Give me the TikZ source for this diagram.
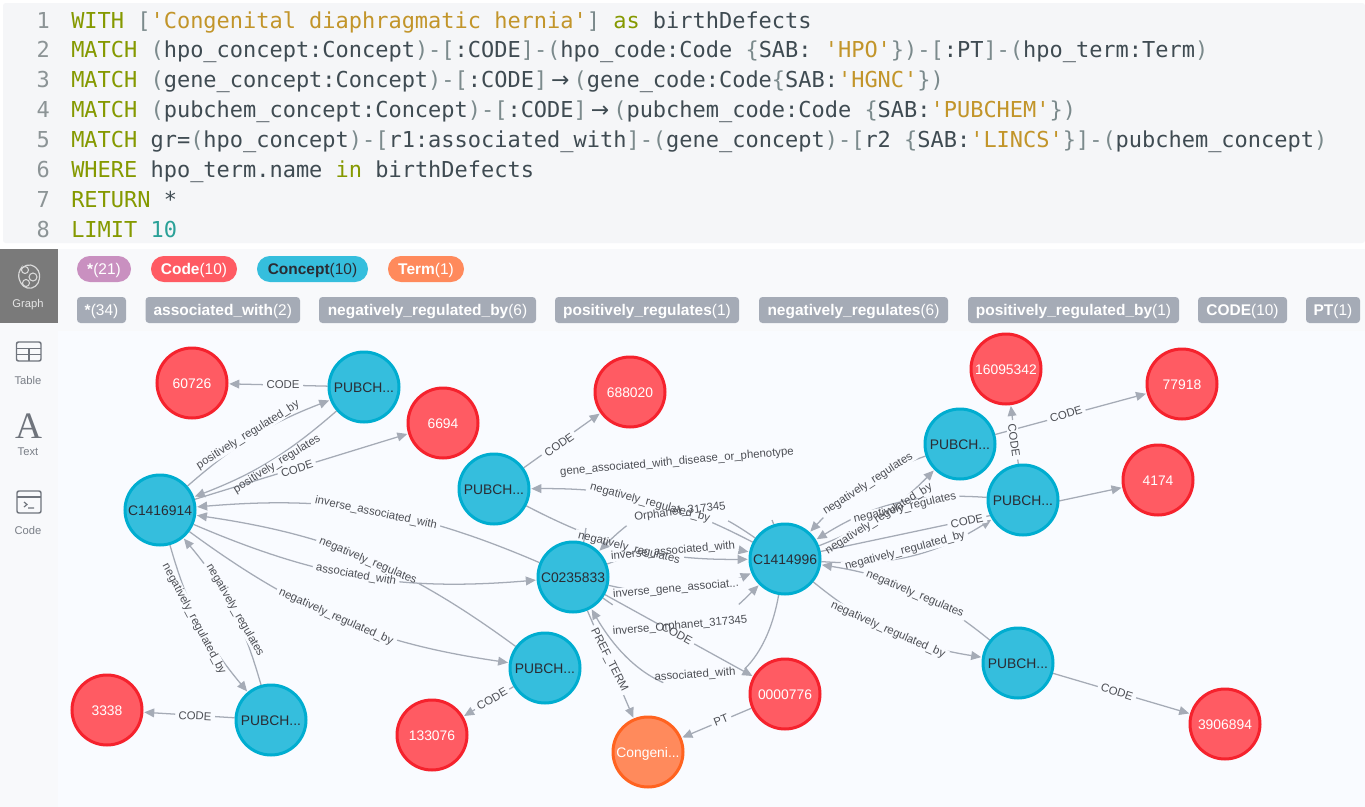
\documentclass[tikz,border=0pt]{standalone}
\usepackage{fontspec}
\setmainfont{Liberation Sans}
\newfontfamily\codefont{DejaVu Sans Mono}
\newfontfamily\arrowfont{DejaVu Sans}
\newfontfamily\iconfont{Liberation Serif}
\usetikzlibrary{arrows.meta}
\definecolor{codebg}{HTML}{F5F6F8}
\definecolor{panelbg}{HTML}{F8F9FB}
\definecolor{canvasbg}{HTML}{F9FBFF}
\definecolor{kwcol}{HTML}{859900}
\definecolor{strcol}{HTML}{C2952A}
\definecolor{numcol}{HTML}{2AA198}
\definecolor{puncol}{HTML}{7B8A8C}
\definecolor{txtcol}{HTML}{3F4B52}
\definecolor{lnumcol}{HTML}{8C9496}
\definecolor{relgray}{HTML}{A5ABB6}
\definecolor{conceptfill}{HTML}{35BEDD}
\definecolor{conceptline}{HTML}{00ADD0}
\definecolor{codefill}{HTML}{FF5B63}
\definecolor{codeline}{HTML}{F5222D}
\definecolor{termfill}{HTML}{FF8A5C}
\definecolor{termline}{HTML}{FF6320}
\definecolor{allfill}{HTML}{C990C0}
\definecolor{darktxt}{HTML}{2A2C34}
\definecolor{labtxt}{HTML}{4D4F55}
\definecolor{sidetxt}{HTML}{7A7F87}
\definecolor{iconcol}{HTML}{6F747C}
\pgfdeclarelayer{backlayer}
\pgfdeclarelayer{edgelayer}
\pgfsetlayers{backlayer,edgelayer,main}
\newcounter{lc}
\newcommand{\Kw}[1]{\textcolor{kwcol}{#1}}
\newcommand{\St}[1]{\textcolor{strcol}{#1}}
\newcommand{\Pn}[1]{\textcolor{puncol}{#1}}
\newcommand{\Ar}{\makebox[1.204em][c]{\textcolor{txtcol}{\arrowfont →}}}
\newcommand{\Codeline}[2]{%
  \node[lnum] (ln#1) at (50,{28+29.86*(#1-1)}) {#1};
  \node[codetxt] (cl#1) at (71,{28+29.86*(#1-1)}) {#2};}
\newcommand{\Edge}[7]{% from, to, path options, x, y, rot, text
  \stepcounter{lc}%
  \begin{pgfonlayer}{edgelayer}
    \draw[conn] (#1) to[#3] (#2);
    \node[gaplab,rotate=#6] (gap\thelc) at (#4,#5) {\phantom{#7}};
  \end{pgfonlayer}
  \node[edgelab,rotate=#6] (lab\thelc) at (#4,#5) {#7};}
\newcommand{\EdgeD}[8]{% same, with the break of a tightly curved arc given as a dash pattern
  \stepcounter{lc}%
  \begin{pgfonlayer}{edgelayer}
    \draw[conn,dash pattern=#8] (#1) to[#3] (#2);
  \end{pgfonlayer}
  \node[edgelab,rotate=#6] (lab\thelc) at (#4,#5) {#7};}
\newcommand{\Pill}[8]{% name,x1,x2,y1,y2,fill,style,text
  \pgfmathsetlengthmacro{\pw}{(#3-#2)*0.75pt}%
  \pgfmathsetlengthmacro{\ph}{(#5-#4)*0.75pt}%
  \node[#7,fill=#6,minimum width=\pw,minimum height=\ph] (#1) at ({(#2+#3)/2},{(#4+#5)/2}) {#8};}
\tikzset{
  x=0.75pt,y=-0.75pt,
  lnum/.style={anchor=base east,font=\codefont\fontsize{16.47pt}{18pt}\selectfont,text=lnumcol,inner sep=0pt},
  codetxt/.style={anchor=base west,font=\codefont\fontsize{16.47pt}{18pt}\selectfont,text=txtcol,inner sep=0pt},
  gnode/.style={circle,minimum size=52.5pt,inner sep=0pt,line width=2.25pt,text height=9pt,text depth=1pt,font=\fontsize{10.4pt}{12pt}\selectfont},
  cnode/.style={gnode,fill=conceptfill,draw=conceptline,text=darktxt},
  rnode/.style={gnode,fill=codefill,draw=codeline,text=white},
  tnode/.style={gnode,fill=termfill,draw=termline,text=white},
  conn/.style={draw=relgray,line width=0.95pt,-{Triangle[length=7.5pt,width=6.6pt]},shorten >=0.6pt},
  tickline/.style={draw=relgray,line width=0.95pt},
  gaplab/.style={fill=canvasbg,inner xsep=2.5pt,inner ysep=0pt,minimum height=8.5pt,font=\fontsize{8.55pt}{10pt}\selectfont},
  edgelab/.style={text=labtxt,inner sep=0pt,font=\fontsize{8.55pt}{10pt}\selectfont},
  roundpill/.style={rounded corners=9.7pt,inner sep=0pt,text height=10pt,text depth=2pt,font=\fontsize{11.6pt}{13pt}\selectfont,text=white},
  relpill/.style={rounded corners=2.6pt,inner sep=0pt,text height=10pt,text depth=2pt,font=\fontsize{11.6pt}{13pt}\selectfont,text=white},
  sidelab/.style={font=\fontsize{8.4pt}{10pt}\selectfont,text=sidetxt,inner sep=0pt},
  iconline/.style={draw=iconcol,line width=0.9pt},
}
\begin{document}
\begin{tikzpicture}
\useasboundingbox (0,0) rectangle (1365,807);
\begin{pgfonlayer}{backlayer}
  \fill[white] (0,0) rectangle (1365,807);
  \fill[codebg,rounded corners=2pt] (3,3) rectangle (1365,243);
  \fill[panelbg] (0,249) rectangle (1365,807);
  \fill[canvasbg] (58,331) rectangle (1365,807);
  \fill[black!52] (0,249) rectangle (58,323);
\end{pgfonlayer}

% code
\Codeline{1}{\Kw{WITH} \Pn{[}\St{'Congenital diaphragmatic hernia'}\Pn{]} \Kw{as} birthDefects}
\Codeline{2}{\Kw{MATCH} \Pn{(}hpo\_concept:Concept\Pn{)-[}:CODE\Pn{]-(}hpo\_code:Code \Pn{\{}SAB: \St{'HPO'}\Pn{\})-[}:PT\Pn{]-(}hpo\_term:Term\Pn{)}}
\Codeline{3}{\Kw{MATCH} \Pn{(}gene\_concept:Concept\Pn{)-[}:CODE\Pn{]}\Ar\Pn{(}gene\_code:Code\Pn{\{}SAB:\St{'HGNC'}\Pn{\})}}
\Codeline{4}{\Kw{MATCH} \Pn{(}pubchem\_concept:Concept\Pn{)-[}:CODE\Pn{]}\Ar\Pn{(}pubchem\_code:Code \Pn{\{}SAB:\St{'PUBCHEM'}\Pn{\})}}
\Codeline{5}{\Kw{MATCH} gr=\Pn{(}hpo\_concept\Pn{)-[}r1:associated\_with\Pn{]-(}gene\_concept\Pn{)-[}r2 \Pn{\{}SAB:\St{'LINCS'}\Pn{\}]-(}pubchem\_concept\Pn{)}}
\Codeline{6}{\Kw{WHERE} hpo\_term.name \Kw{in} birthDefects}
\Codeline{7}{\Kw{RETURN} *}
\Codeline{8}{\Kw{LIMIT} \textcolor{numcol}{10}}

% side bar
\node[sidelab,text=white!90!black] (sgraph) at (28,305) {Graph};
\node[sidelab] (stable) at (28,380) {Table};
\node[sidelab] (stext) at (28,452) {Text};
\node[sidelab] (scode) at (28,530) {Code};
% graph icon
\draw[white!85!black,line width=0.9pt,rounded corners=3pt] (22,267) -- (31,264) -- (39,270) -- (40,279) -- (36,287) -- (27,289) -- (20,283) -- (18,273) -- cycle;
\draw[white!85!black,line width=0.8pt] (25,270) circle[radius=3.5] (33,277) circle[radius=4] (26,283) circle[radius=3.5];
% table icon
\draw[iconline,rounded corners=1.5pt,line width=1.1pt] (16.5,342) rectangle (41,361);
\draw[iconline,line width=1.1pt] (16.5,348.5) -- (41,348.5) (16.5,354.5) -- (41,354.5) (29,348.5) -- (29,361);
% text icon
\node[text=iconcol,font=\iconfont\fontsize{28pt}{30pt}\selectfont,inner sep=0pt] (aicon) at (28.5,426) {A};
% code icon
\draw[iconline,rounded corners=1.5pt,line width=1.1pt] (17,491) rectangle (41,513);
\draw[iconline,line width=1.1pt] (17,497) -- (41,497);
\draw[iconline] (24,502) -- (27,504.5) -- (24,507) (28,508) -- (34,508);

% legend
\Pill{p1}{77}{131}{256}{282}{allfill}{roundpill}{\textbf{*}(21)}
\Pill{p2}{151}{237}{256}{282}{codefill}{roundpill}{\textbf{Code}(10)}
\Pill{p3}{257}{368}{256}{282}{conceptfill}{roundpill,text=darktxt}{\textbf{Concept}(10)}
\Pill{p4}{388}{464}{256}{282}{termfill}{roundpill}{\textbf{Term}(1)}
\Pill{r1}{77}{126}{297}{323}{relgray}{relpill}{\textbf{*}(34)}
\Pill{r2}{145.5}{300}{297}{323}{relgray}{relpill}{\textbf{associated\_with}(2)}
\Pill{r3}{319}{536}{297}{323}{relgray}{relpill}{\textbf{negatively\_regulated\_by}(6)}
\Pill{r4}{555}{739}{297}{323}{relgray}{relpill}{\textbf{positively\_regulates}(1)}
\Pill{r5}{759}{948}{297}{323}{relgray}{relpill}{\textbf{negatively\_regulates}(6)}
\Pill{r6}{968}{1179}{297}{323}{relgray}{relpill}{\textbf{positively\_regulated\_by}(1)}
\Pill{r7}{1198}{1287}{297}{323}{relgray}{relpill}{\textbf{CODE}(10)}
\Pill{r8}{1306}{1360}{297}{323}{relgray}{relpill}{\textbf{PT}(1)}

% graph nodes
\node[rnode] (n60726) at (192,383) {60726};
\node[cnode] (pc1) at (364,387) {PUBCH...};
\node[rnode] (n6694) at (443,423) {6694};
\node[rnode] (n688020) at (630,392) {688020};
\node[cnode] (pc2) at (494,489) {PUBCH...};
\node[cnode] (c1) at (160,510) {C1416914};
\node[cnode] (c2) at (573,577) {C0235833};
\node[cnode] (c3) at (785,559) {C1414996};
\node[rnode] (n16095342) at (1006,369) {16095342};
\node[rnode] (n77918) at (1182,384) {77918};
\node[cnode] (pc3) at (960,444) {PUBCH...};
\node[cnode] (pc4) at (1023,500) {PUBCH...};
\node[rnode] (n4174) at (1158,480) {4174};
\node[cnode] (pc5) at (1018,663) {PUBCH...};
\node[rnode] (n3906894) at (1225,724) {3906894};
\node[cnode] (pc6) at (545,668) {PUBCH...};
\node[rnode] (n133076) at (432,735) {133076};
\node[rnode] (n3338) at (107,710) {3338};
\node[cnode] (pc7) at (271,720) {PUBCH...};
\node[rnode] (n776) at (785,694) {0000776};
\node[tnode] (term) at (648,752) {Congeni...};

% connectors, left part
\Edge{pc1}{n60726}{}{283}{385}{0}{CODE}
\Edge{c1}{pc1}{bend left=10}{248}{435}{32}{positively\_regulated\_by}
\Edge{pc1}{c1}{bend left=10}{277}{464}{32}{positively\_regulates}
\Edge{c1}{n6694}{}{297}{469}{18}{CODE}
\Edge{c2}{c1}{bend right=14}{376}{513}{-12}{inverse\_associated\_with}
\Edge{pc6}{c1}{bend right=14}{368}{561}{-23}{negatively\_regulates}
\Edge{c1}{c2}{bend right=14}{356}{575}{-10}{associated\_with}
\Edge{c1}{pc6}{bend right=14}{336}{617}{-24}{negatively\_regulated\_by}
\Edge{pc7}{c1}{bend right=12}{235}{610}{-60}{negatively\_regulates}
\Edge{c1}{pc7}{bend right=12}{194}{619}{-62}{negatively\_regulated\_by}
\Edge{pc7}{n3338}{}{195}{716}{-3}{CODE}
\Edge{pc6}{n133076}{}{492}{699}{30}{CODE}
\Edge{pc2}{n688020}{}{559}{445}{35}{CODE}

% connectors, centre
\Edge{c3}{pc2}{bend right=14}{650}{503}{-15}{negatively\_regulated\_by}
\Edge{pc2}{c3}{bend right=14}{629}{548}{-14}{negatively\_regulates}
\Edge{c2}{c3}{bend left=16}{673}{551}{5}{inverse\_associated\_with}
\EdgeD{c3}{c2}{bend right=40,looseness=1.3}{680}{512}{7}{Orphanet\_317345}{on 24pt off 82pt on 100pt}
\Edge{c2}{c3}{bend right=18}{676}{589}{5}{inverse\_gene\_associat...}
\EdgeD{c2}{c3}{bend right=40,looseness=1.4}{680}{626}{5}{inverse\_Orphanet\_317345}{on 9pt off 106pt on 60pt}
\EdgeD{c3}{c2}{out=-100,in=-60,looseness=1.7}{695}{675}{4}{associated\_with}{on 62pt off 66pt on 100pt}
\Edge{c2}{term}{}{609}{660}{-63}{PREF\_TERM}
\Edge{c2}{n776}{}{677}{634}{-29}{CODE}
\Edge{n776}{term}{}{721}{720}{22}{PT}
% the long label of this arc leaves only two stubs of it visible
\coordinate (stubA) at (586,528);
\coordinate (stubB) at (772,520);
\begin{pgfonlayer}{edgelayer}
  \draw[tickline] (c2.73) -- (stubA);
  \draw[tickline] (c3.108) -- (stubB);
\end{pgfonlayer}
\node[edgelab,rotate=5] (labgene) at (677,462) {gene\_associated\_with\_disease\_or\_phenotype};

% connectors, right part
\Edge{pc3}{c3}{bend right=14}{868}{484}{33}{negatively\_regulates}
\Edge{c3}{pc3}{bend right=12}{879}{519}{32}{negatively\_regulated\_by}
\Edge{pc4}{c3}{bend right=18}{905}{508}{13}{negatively\_regulates}
\Edge{c3}{pc4}{bend right=18}{905}{551}{15}{negatively\_regulated\_by}
\Edge{c3}{n4174}{}{967}{521}{12}{CODE}
\Edge{pc3}{n77918}{}{1066}{414}{17}{CODE}
\Edge{pc4}{n16095342}{}{1014}{440}{-82}{CODE}
\Edge{pc5}{c3}{bend right=15}{915}{594}{-23}{negatively\_regulates}
\Edge{c3}{pc5}{bend right=15}{888}{630}{-24}{negatively\_regulated\_by}
\Edge{pc5}{n3906894}{}{1117}{692}{-18}{CODE}
\end{tikzpicture}
\end{document}
